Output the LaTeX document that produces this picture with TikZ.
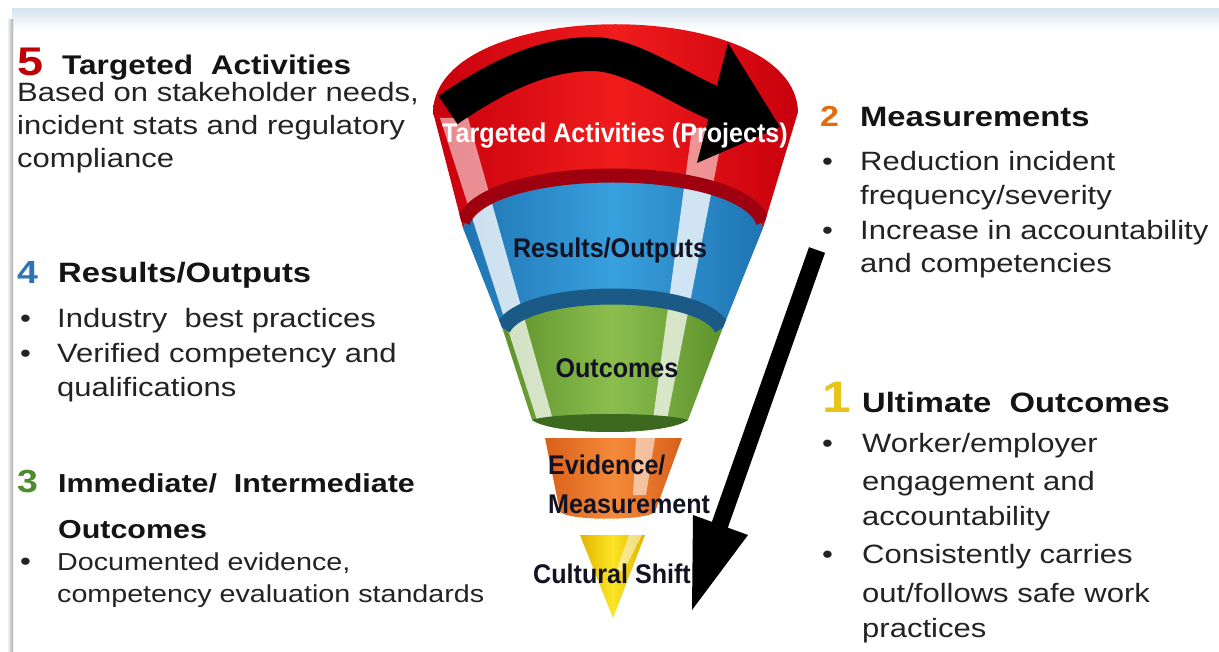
\documentclass[tikz,border=0pt]{standalone}
\usepackage{fontspec}
\setmainfont{Liberation Sans}
\newfontfamily\bodyf{Liberation Sans}[FakeStretch=1.17]
\newfontfamily\funf{Liberation Sans}[FakeStretch=0.93]
\usetikzlibrary{arrows.meta}
\definecolor{txt}{HTML}{232323}
\definecolor{hd}{HTML}{141414}
\definecolor{nfive}{HTML}{C00000}
\definecolor{nfour}{HTML}{2E74B5}
\definecolor{nthree}{HTML}{4E8A2E}
\definecolor{ntwo}{HTML}{E46C0A}
\definecolor{numone}{HTML}{E8C31A}
\definecolor{redM}{HTML}{F01C1C}
\definecolor{redE}{HTML}{C8000C}
\definecolor{redB}{HTML}{9E0010}
\definecolor{bluM}{HTML}{38A0DE}
\definecolor{bluE}{HTML}{1F74B2}
\definecolor{bluB}{HTML}{1B5A86}
\definecolor{grnM}{HTML}{8CBE4E}
\definecolor{grnE}{HTML}{5E922C}
\definecolor{grnB}{HTML}{3C6820}
\definecolor{orgM}{HTML}{F58A3A}
\definecolor{orgE}{HTML}{D8601A}
\definecolor{yelM}{HTML}{FBE426}
\definecolor{yelE}{HTML}{E2B400}
\definecolor{band}{HTML}{D6E4F0}
\definecolor{funtx}{HTML}{121222}
\def\redpath{(433,112) .. controls (436,-5) and (795,-5) .. (798,112) -- (763,228) .. controls (740,165) and (486,165) .. (463,228) -- cycle}
\def\bluepath{(463,228) .. controls (486,165) and (740,165) .. (763,228) -- (722,330) .. controls (700,288) and (525,288) .. (503,330) -- cycle}
\def\greenpath{(503,330) .. controls (525,288) and (700,288) .. (722,330) -- (688,420) .. controls (665,436) and (555,436) .. (532,420) -- cycle}
\def\funout{(433,112) .. controls (436,-5) and (795,-5) .. (798,112) -- (763,228) -- (722,330) -- (688,420) .. controls (665,436) and (555,436) .. (532,420) -- (503,330) -- (463,228) -- cycle}
\def\orangepath{(545,438) -- (682,438) -- (655,512) .. controls (645,521) and (570,521) .. (560,512) -- cycle}
\def\yellowpath{(580,535) -- (645,535) -- (613,618) -- cycle}
\def\stripeL{(440,118) -- (468,118) -- (553,420) -- (537,420) -- cycle}
\def\stripeR{(692,128) -- (724,128) -- (667,420) -- (653,420) -- cycle}
\tikzset{
  bodytxt/.style={anchor=base west, inner sep=0pt, text=txt, font=\bodyf\fontsize{26.5}{30}\selectfont},
  smalltxt/.style={anchor=base west, inner sep=0pt, text=txt, font=\bodyf\fontsize{24.5}{28}\selectfont},
  headtxt/.style={anchor=base west, inner sep=0pt, text=hd, font=\bodyf\bfseries\fontsize{28}{32}\selectfont},
  numtxt/.style={anchor=base west, inner sep=0pt, font=\bodyf\bfseries\fontsize{32}{36}\selectfont},
  bultxt/.style={anchor=base west, inner sep=0pt, text=txt, font=\bodyf\fontsize{26.5}{30}\selectfont},
  funtxt/.style={inner sep=0pt, text=funtx, font=\funf\bfseries\fontsize{27}{30}\selectfont},
  hilite/.style={fill=white, opacity=0.6},
}
\begin{document}
\begin{tikzpicture}[x=1pt,y=-1pt]
\useasboundingbox (0,0) rectangle (1219,652);
\fill[white] (0,0) rectangle (1219,652);
% frame shading
\shade[top color=band, bottom color=white] (12,9) rectangle (1219,30);
\shade[left color=white, right color=gray!65] (7,20) rectangle (13,652);

% ---------- funnel ----------
\shade[left color=redE, right color=redE, middle color=redM] \redpath;
\begin{scope}
  \clip \redpath;
  \fill[hilite, opacity=0.55] \stripeL;
  \fill[hilite, opacity=0.55] \stripeR;
\end{scope}
\shade[left color=bluE, right color=bluE, middle color=bluM] \bluepath;
\begin{scope}
  \clip \bluepath;
  \fill[hilite, opacity=0.78] \stripeL;
  \fill[hilite, opacity=0.78] \stripeR;
\end{scope}
\shade[left color=grnE, right color=grnE, middle color=grnM] \greenpath;
\begin{scope}
  \clip \greenpath;
  \fill[hilite, opacity=0.72] \stripeL;
  \fill[hilite, opacity=0.72] \stripeR;
\end{scope}
\begin{scope}
  \clip \funout;
  \draw[line width=14pt, redB] (463,222) .. controls (486,160) and (740,160) .. (763,222);
  \draw[line width=16pt, bluB] (503,328) .. controls (525,286) and (700,286) .. (722,328);
  \fill[grnB] (532,420) .. controls (555,412) and (665,412) .. (688,420) .. controls (665,436) and (555,436) .. (532,420) -- cycle;
\end{scope}
\shade[left color=orgE, right color=orgE, middle color=orgM] \orangepath;
\begin{scope}
  \clip \orangepath;
  \fill[hilite, opacity=0.55] (636,438) -- (655,438) -- (646,495) -- (633,495) -- cycle;
\end{scope}
\shade[left color=yelE, right color=yelE, middle color=yelM] \yellowpath;
\begin{scope}
  \clip \yellowpath;
  \fill[hilite, opacity=0.5] (629,535) -- (642,535) -- (623,572) -- (617,569) -- cycle;
\end{scope}

% ---------- arrows ----------
\coordinate (cs) at (448,110);
\coordinate (cm) at (590,54);
\coordinate (ce) at (716,104);
\coordinate (ch1) at (728,43);
\coordinate (ch2) at (780,127);
\coordinate (ch3) at (697,163);
\draw[line width=34pt, black] (cs) .. controls (495,78) and (540,55) .. (cm) .. controls (630,53) and (675,87) .. (ce);
\fill[black] (ch1) -- (ch2) -- (ch3) -- cycle;

\coordinate (ss) at (817,250);
\coordinate (se) at (718,530);
\coordinate (sh1) at (693,515);
\coordinate (sh2) at (748,535);
\coordinate (sh3) at (692,610);
\draw[line width=17pt, black] (ss) -- (se);
\fill[black] (sh1) -- (sh2) -- (sh3) -- cycle;

% ---------- funnel labels ----------
\node[funtxt, text=white, anchor=base] (f1) at (615,143) {Targeted Activities (Projects)};
\node[funtxt, anchor=base] (f2) at (610,258) {Results/Outputs};
\node[funtxt, anchor=base] (f3) at (617,378) {Outcomes};
\node[funtxt, anchor=base west] (f4) at (548,475) {Evidence/};
\node[funtxt, anchor=base west] (f5) at (548,513) {Measurement};
\node[funtxt, anchor=base] (f6) at (612,583) {Cultural Shift};

% ---------- left column ----------
\node[numtxt, text=nfive, font=\bodyf\bfseries\fontsize{40}{42}\selectfont] (n5) at (17,76) {5};
\node[headtxt, font=\bodyf\bfseries\fontsize{27}{30}\selectfont] (h5) at (62,75) {Targeted\ \ Activities};
\node[bodytxt] (t5a) at (17,102) {Based on stakeholder needs,};
\node[bodytxt] (t5b) at (17,135) {incident stats and regulatory};
\node[bodytxt] (t5c) at (17,168) {compliance};

\node[numtxt, text=nfour] (n4) at (17,284) {4};
\node[headtxt] (h4) at (58,283) {Results/Outputs};
\node[bultxt] (b4a) at (20,328) {•};
\node[bodytxt] (t4a) at (57,328) {Industry\ \ best practices};
\node[bultxt] (b4b) at (20,363) {•};
\node[bodytxt] (t4b) at (57,363) {Verified competency and};
\node[bodytxt] (t4c) at (57,397) {qualifications};

\node[numtxt, text=nthree] (n3) at (17,492) {3};
\node[headtxt, font=\bodyf\bfseries\fontsize{26}{30}\selectfont] (h3) at (58,492) {Immediate/\ \ Intermediate};
\node[headtxt, font=\bodyf\bfseries\fontsize{26}{30}\selectfont] (h3b) at (58,538) {Outcomes};
\node[bultxt] (b3a) at (20,570) {•};
\node[smalltxt] (t3a) at (57,570) {Documented evidence,};
\node[smalltxt] (t3b) at (57,602) {competency evaluation standards};

% ---------- right column ----------
\node[numtxt, text=ntwo, font=\bodyf\bfseries\fontsize{29}{32}\selectfont] (n2) at (820,127) {2};
\node[headtxt] (h2) at (860,127) {Measurements};
\node[bultxt] (b2a) at (822,171) {•};
\node[bodytxt] (t2a) at (860,171) {Reduction incident};
\node[bodytxt] (t2b) at (860,205) {frequency/severity};
\node[bultxt] (b2b) at (822,240) {•};
\node[bodytxt] (t2c) at (860,240) {Increase in accountability};
\node[bodytxt] (t2d) at (860,273) {and competencies};

\node[numtxt, text=numone, font=\bodyf\bfseries\fontsize{44}{46}\selectfont] (n1) at (822,413) {1};
\node[headtxt] (h1) at (862,413) {Ultimate\ \ Outcomes};
\node[bultxt] (b1a) at (822,453) {•};
\node[bodytxt] (t1a) at (862,453) {Worker/employer};
\node[bodytxt] (t1b) at (862,490) {engagement and};
\node[bodytxt] (t1c) at (862,525) {accountability};
\node[bultxt] (b1b) at (822,563) {•};
\node[bodytxt] (t1d) at (862,563) {Consistently carries};
\node[bodytxt] (t1e) at (862,602) {out/follows safe work};
\node[bodytxt] (t1f) at (862,637) {practices};
\end{tikzpicture}
\end{document}
